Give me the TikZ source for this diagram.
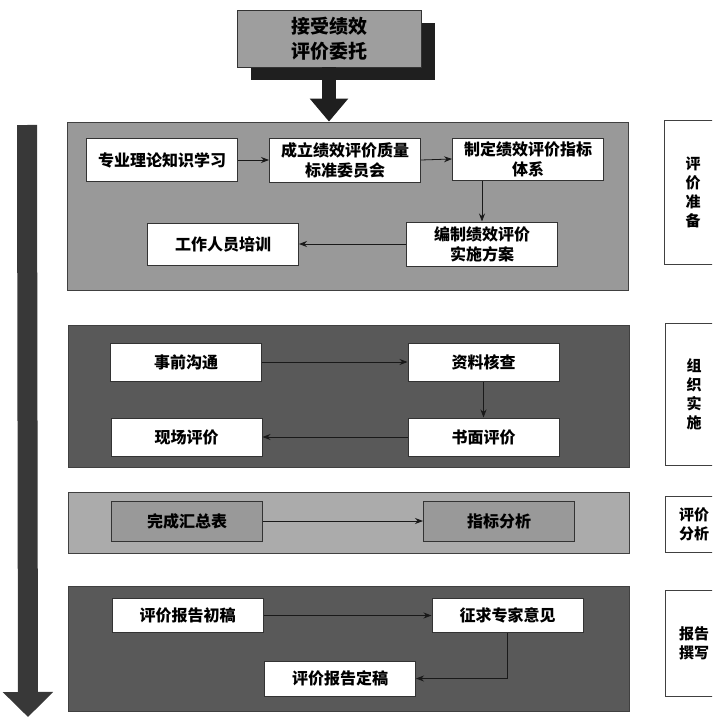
\documentclass[tikz,border=0pt]{standalone}
\usepackage{fontspec}
\setmainfont{Noto Sans CJK SC}
\usepackage{xcolor}
\usetikzlibrary{positioning,shapes,shadows,arrows.meta}
\tikzset{
	link/.style={draw=black!90, line width=0.8pt, -{Stealth[length=8pt,width=6pt]}},
	stepbox/.style={
		rectangle, draw=black!80, fill=white, line width=1pt,
		minimum width=151pt, minimum height=40pt, inner sep=2pt,
		align=center, font=\fontsize{16}{20}\selectfont\bfseries
	},
	phase/.style={rectangle, draw=black!75, line width=0.8pt, minimum width=561pt},
	tag/.style={
		rectangle, draw=black!75, fill=white, line width=1pt,
		minimum width=58pt, inner sep=2pt,
		align=center, font=\fontsize{15}{19}\selectfont\bfseries
	}
}

\begin{document}
\begin{tikzpicture}[
	x=1pt, y=-1pt,
	entrybox/.style={rectangle, draw=black!80, fill=black!38, line width=0.8pt,
		minimum width=184pt, minimum height=57pt, align=center,
		font=\fontsize{19}{25}\selectfont\bfseries,
		drop shadow={shadow xshift=14pt, shadow yshift=-13pt, fill=black!88, opacity=1}},
	]
	\clip (0,0) rectangle (712,717);
	
	%Phases
	\node[phase, fill=black!40, minimum height=168pt] (prep)      at (347.5,206)   {};
	\node[phase, fill=black!65, minimum height=142pt] (implement) at (348.5,396)   {};
	\node[phase, fill=black!33, minimum height=61pt]  (analyze)   at (348.5,522.5) {};
	\node[phase, fill=black!65, minimum height=125pt] (report)    at (348.5,648.5) {};
	
	%Nodes
	\node[entrybox] (entrust) at (329,38.5) {接受绩效\\评价委托};
	
	\node[stepbox, minimum height=43pt] (study)     at (162,160) {专业理论知识学习};
	\node[stepbox, minimum height=44pt] (committee) at (345,160) {成立绩效评价质量\\标准委员会};
	\node[stepbox, minimum height=42pt] (index)     at (528,159) {制定绩效评价指标\\体系};
	\node[stepbox, minimum height=44pt] (plan)      at (482,244) {编制绩效评价\\实施方案};
	\node[stepbox, minimum height=42pt] (train)     at (223,244) {工作人员培训};
	
	\node[stepbox, minimum height=38pt] (pre)     at (186,362)   {事前沟通};
	\node[stepbox, minimum height=38pt] (check)   at (483.5,362) {资料核查};
	\node[stepbox, minimum height=38pt] (written) at (483.5,437) {书面评价};
	\node[stepbox, minimum height=38pt] (site)    at (186.5,437) {现场评价};
	
	\node[stepbox, fill=black!40] (summary)  at (187,521) {完成汇总表};
	\node[stepbox, fill=black!40] (analysis) at (499,521) {指标分析};
	
	\node[stepbox, minimum height=34pt] (draft)  at (187.5,615.5) {评价报告初稿};
	\node[stepbox, minimum height=34pt] (expert) at (507.5,615.5) {征求专家意见};
	\node[stepbox, minimum height=35pt] (final)  at (340,678.5)   {评价报告定稿};
	
	\node[tag, minimum height=144pt] (tagprep)      at (693,192) {评\\价\\准\\备};
	\node[tag, minimum height=142pt] (tagimplement) at (694,394) {组\\织\\实\\施};
	\node[tag, minimum height=56pt]  (taganalyze)   at (694,524) {评价\\分析};
	\node[tag, minimum height=106pt] (tagreport)    at (694,643) {报告\\撰写};
	
	\coordinate (flowtop) at (27,125);
	\coordinate (flowend) at (28,717);
	
	%Lines
	\draw[line width=14pt, draw=black!88, -{Triangle[length=23pt,width=37pt]}]
		(entrust.south) -- (entrust.south |- prep.north);
	\draw[line width=20pt, draw=black!78, -{Triangle[length=25pt,width=49pt]}]
		(flowtop) -- (flowend);
	
	\draw[link] (study.east) -- (committee.west);
	\draw[link] (committee.east) -- (index.west);
	\draw[link] (plan.north |- index.south) -- (plan.north);
	\draw[link] (plan.west) -- (train.east);
	
	\draw[link] (pre.east) -- (check.west);
	\draw[link] (check.south) -- (written.north);
	\draw[link] (written.west) -- (site.east);
	
	\draw[link] (summary.east) -- (analysis.west);
	
	\draw[link] (draft.east) -- (expert.west);
	\draw[link] (expert.south) |- (final.east);
\end{tikzpicture}
\end{document}
